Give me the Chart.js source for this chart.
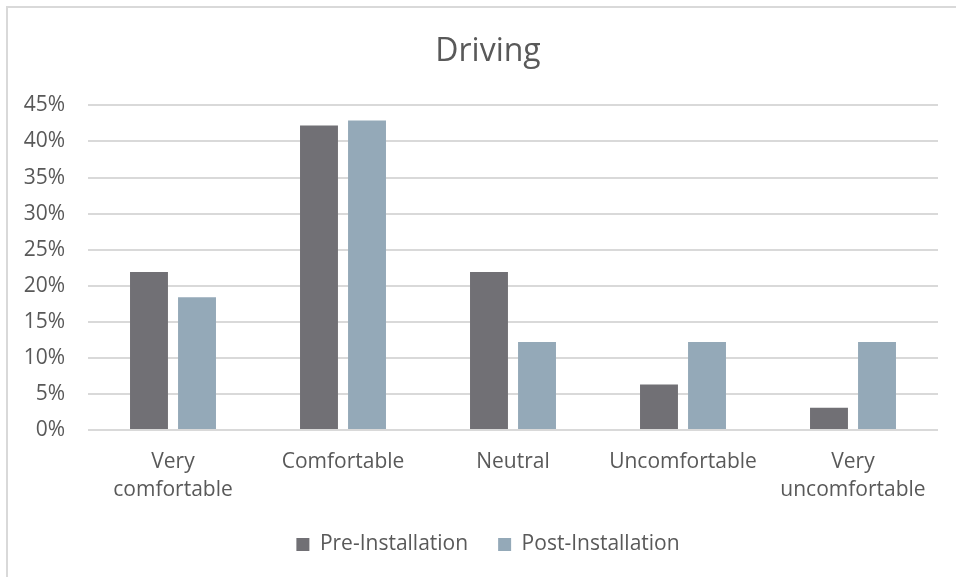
<!DOCTYPE html>
<html>
<head>
<meta charset="utf-8">
<title>Driving</title>
<script src="https://cdn.jsdelivr.net/npm/chart.js@4.4.1/dist/chart.umd.min.js"></script>
<style>
  html, body { margin: 0; padding: 0; background: #ffffff; overflow: hidden; width: 956px; height: 577px; }
  canvas { display: block; }
</style>
</head>
<body>
<canvas id="chart" width="976" height="577"></canvas>
<script>
// Survey responses: comfort while driving, share of respondents (%)
const categories = [["Very", "comfortable"], "Comfortable", "Neutral", "Uncomfortable", ["Very", "uncomfortable"]];
const preInstallation = [21.9, 42.2, 21.9, 6.3, 3.1];
const postInstallation = [18.4, 42.9, 12.2, 12.2, 12.2];
const yTicks = [0, 5, 10, 15, 20, 25, 30, 35, 40, 45];

const textColor = '#595959';
const fontFamily = '"Open Sans", "DejaVu Sans", sans-serif';

// Light frame along the top and left edges of the chart box
const framePlugin = {
  id: 'frame',
  beforeDraw(chart) {
    const ctx = chart.ctx;
    ctx.save();
    ctx.strokeStyle = '#d9d9d9';
    ctx.lineWidth = 2;
    ctx.beginPath();
    ctx.moveTo(7, chart.height + 5);
    ctx.lineTo(7, 7);
    ctx.lineTo(chart.width + 5, 7);
    ctx.stroke();
    ctx.restore();
  }
};

// Centre the title and legend on the whole chart box rather than on the padded area
const centreBlocksPlugin = {
  id: 'centreBlocks',
  afterLayout(chart) {
    const shift = chart.options.layout.padding.right / 2;
    [chart.titleBlock, chart.legend].forEach(block => {
      if (block) {
        block.left += shift;
        block.right += shift;
      }
    });
  }
};

new Chart(document.getElementById('chart'), {
  type: 'bar',
  data: {
    labels: categories,
    datasets: [
      {
        label: 'Pre-Installation',
        data: preInstallation,
        backgroundColor: '#717075',
        barPercentage: 0.79,
        categoryPercentage: 0.565
      },
      {
        label: 'Post-Installation',
        data: postInstallation,
        backgroundColor: '#94a9b8',
        barPercentage: 0.79,
        categoryPercentage: 0.565
      }
    ]
  },
  options: {
    responsive: false,
    animation: false,
    devicePixelRatio: 1,
    layout: { padding: { left: 0, right: 38, top: 0, bottom: 12 } },
    plugins: {
      title: {
        display: true,
        text: 'Driving',
        color: textColor,
        font: { family: fontFamily, size: 32, weight: 'normal', lineHeight: 1.2 },
        padding: { top: 33, bottom: 34 }
      },
      legend: {
        position: 'bottom',
        labels: {
          color: textColor,
          font: { family: fontFamily, size: 21 },
          boxWidth: 13,
          boxHeight: 13,
          padding: 30
        }
      },
      tooltip: { enabled: false }
    },
    scales: {
      x: {
        grid: { display: false, drawTicks: false },
        border: { display: false },
        ticks: {
          color: textColor,
          font: { family: fontFamily, size: 21, lineHeight: 1.33 },
          padding: 18,
          maxRotation: 0,
          autoSkip: false
        },
        afterFit(scale) { scale.height = 74; }
      },
      y: {
        min: 0,
        max: 45,
        afterBuildTicks(scale) { scale.ticks = yTicks.map(v => ({ value: v })); },
        grid: { color: '#d9d9d9', lineWidth: 2, drawTicks: false },
        border: { display: false },
        ticks: {
          color: textColor,
          font: { family: fontFamily, size: 21 },
          padding: 23,
          callback: v => v + '%'
        },
        afterFit(scale) { scale.width = 88; }
      }
    }
  },
  plugins: [framePlugin, centreBlocksPlugin]
});
</script>
</body>
</html>
